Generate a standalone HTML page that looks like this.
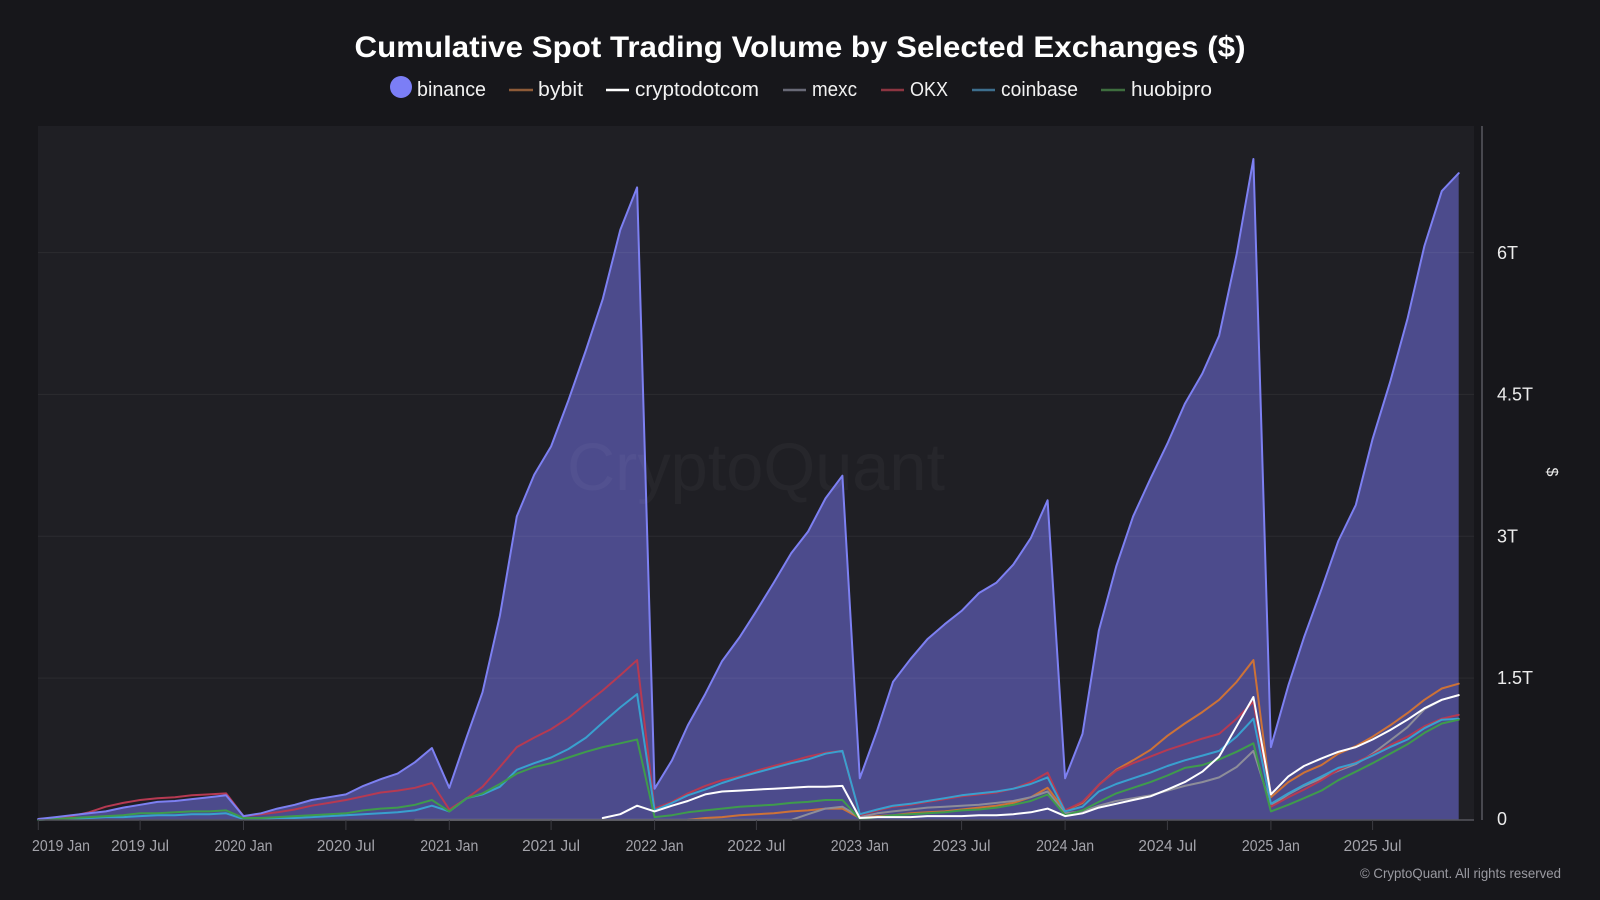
<!DOCTYPE html>
<html><head><meta charset="utf-8">
<style>
html,body{margin:0;padding:0;background:#17171b;overflow:hidden;}
svg{display:block;}
</style></head>
<body>
<svg id="c" width="1600" height="900" viewBox="0 0 1600 900" xmlns="http://www.w3.org/2000/svg" font-family="'Liberation Sans', Arial, sans-serif">
  <rect width="1600" height="900" fill="#17171b"/>
  <rect x="38" y="126" width="1436" height="694" fill="#1f1f24"/>
  <!-- Title -->
  <text x="800" y="57" text-anchor="middle" font-size="30" font-weight="bold" fill="#ffffff" textLength="891" lengthAdjust="spacingAndGlyphs">Cumulative Spot Trading Volume by Selected Exchanges ($)</text>
  <!-- Legend -->
  <g font-size="20" fill="#f2f2f2">
    <circle cx="401" cy="87" r="11" fill="#7b7ef6"/>
    <text x="417" y="96" textLength="69" lengthAdjust="spacingAndGlyphs">binance</text>
    <line x1="509" y1="90" x2="533" y2="90" stroke="#8e5b38" stroke-width="2.5"/>
    <text x="538" y="96" textLength="45" lengthAdjust="spacingAndGlyphs">bybit</text>
    <line x1="606" y1="90" x2="629" y2="90" stroke="#ffffff" stroke-width="2.5"/>
    <text x="635" y="96" textLength="124" lengthAdjust="spacingAndGlyphs">cryptodotcom</text>
    <line x1="783" y1="90" x2="806" y2="90" stroke="#686976" stroke-width="2.5"/>
    <text x="812" y="96" textLength="45" lengthAdjust="spacingAndGlyphs">mexc</text>
    <line x1="881" y1="90" x2="904" y2="90" stroke="#8c3541" stroke-width="2.5"/>
    <text x="910" y="96" textLength="38" lengthAdjust="spacingAndGlyphs">OKX</text>
    <line x1="972" y1="90" x2="995" y2="90" stroke="#3d6e8d" stroke-width="2.5"/>
    <text x="1001" y="96" textLength="77" lengthAdjust="spacingAndGlyphs">coinbase</text>
    <line x1="1101" y1="90" x2="1125" y2="90" stroke="#3e6d3e" stroke-width="2.5"/>
    <text x="1131" y="96" textLength="81" lengthAdjust="spacingAndGlyphs">huobipro</text>
  </g>
  <g id="area"></g>
  <!-- gridlines -->
  <g stroke="#ffffff" stroke-opacity="0.06" stroke-width="1">
    <line x1="38" y1="678.1" x2="1474" y2="678.1"/>
    <line x1="38" y1="536.2" x2="1474" y2="536.2"/>
    <line x1="38" y1="394.4" x2="1474" y2="394.4"/>
    <line x1="38" y1="252.6" x2="1474" y2="252.6"/>
  </g>
  <!-- watermark -->
  <text x="567" y="490" font-size="67" fill="#ffffff" fill-opacity="0.035" textLength="378" lengthAdjust="spacingAndGlyphs">CryptoQuant</text>
  <g id="lines"></g>
  <!-- x axis -->
  <line x1="38" y1="820" x2="1474" y2="820" stroke="#55555c" stroke-width="1.5"/>
  <g id="xticks" stroke="#3c3c43" stroke-width="1"></g>
  <g id="xlabels" font-size="16" fill="#a3a3aa"></g>
  <!-- right axis -->
  <line x1="1482" y1="126" x2="1482" y2="820" stroke="#48484f" stroke-width="2"/>
  <g font-size="18" fill="#ececec">
    <text x="1497" y="259">6T</text>
    <text x="1497" y="400.5">4.5T</text>
    <text x="1497" y="542.5">3T</text>
    <text x="1497" y="684">1.5T</text>
    <text x="1497" y="825">0</text>
  </g>
  <text x="0" y="0" font-size="16" fill="#ececec" text-anchor="middle" transform="translate(1547,472) rotate(90)">$</text>
  <!-- footer -->
  <text x="1561" y="878" font-size="14" fill="#9a9aa1" text-anchor="end" textLength="201" lengthAdjust="spacingAndGlyphs">© CryptoQuant. All rights reserved</text>
</svg>
<script>
(function(){
var NS="http://www.w3.org/2000/svg";
function N(n){var a=[];for(var i=0;i<n;i++)a.push(null);return a;}
function Z(n){var a=[];for(var i=0;i<n;i++)a.push(0);return a;}
var binance=[
0.01,0.03,0.05,0.07,0.09,0.13,0.16,0.19,0.20,0.22,0.24,0.26,
0.04,0.07,0.12,0.16,0.21,0.24,0.27,0.36,0.43,0.49,0.61,0.76,
0.34,0.88,1.35,2.16,3.21,3.65,3.95,4.44,4.97,5.51,6.24,6.69,
0.33,0.63,1.00,1.33,1.68,1.93,2.21,2.51,2.82,3.05,3.40,3.64,
0.44,0.95,1.46,1.70,1.91,2.07,2.21,2.40,2.51,2.70,2.98,3.38,
0.44,0.91,2.00,2.68,3.21,3.61,3.98,4.40,4.72,5.12,5.98,6.99,
0.77,1.42,1.93,2.44,2.95,3.33,4.03,4.63,5.30,6.07,6.65,6.84];
var okx=[
0.01,0.02,0.04,0.08,0.14,0.18,0.21,0.23,0.24,0.26,0.27,0.28,
0.04,0.06,0.08,0.11,0.15,0.18,0.21,0.25,0.29,0.31,0.34,0.39,
0.11,0.23,0.35,0.56,0.77,0.87,0.96,1.08,1.23,1.37,1.53,1.69,
0.12,0.19,0.28,0.36,0.42,0.46,0.52,0.57,0.62,0.67,0.71,0.73,
0.05,0.10,0.14,0.16,0.19,0.22,0.25,0.27,0.29,0.33,0.40,0.50,
0.10,0.19,0.37,0.52,0.60,0.67,0.74,0.80,0.86,0.91,1.07,1.25,
0.14,0.24,0.32,0.42,0.53,0.61,0.69,0.79,0.88,0.99,1.07,1.11];
var coinbase=[
0.00,0.01,0.01,0.02,0.03,0.03,0.04,0.05,0.05,0.06,0.06,0.07,
0.01,0.01,0.02,0.02,0.03,0.04,0.05,0.06,0.07,0.08,0.10,0.15,
0.09,0.23,0.27,0.35,0.53,0.60,0.66,0.75,0.87,1.03,1.19,1.33,
0.10,0.18,0.26,0.32,0.39,0.45,0.50,0.55,0.60,0.64,0.70,0.73,
0.06,0.11,0.15,0.17,0.20,0.23,0.26,0.28,0.30,0.33,0.38,0.45,
0.09,0.14,0.30,0.38,0.44,0.50,0.57,0.63,0.68,0.73,0.88,1.07,
0.17,0.28,0.37,0.46,0.55,0.60,0.68,0.77,0.85,0.97,1.06,1.07];
var huobi=[
0.00,0.01,0.02,0.03,0.04,0.05,0.07,0.07,0.08,0.09,0.09,0.10,
0.02,0.02,0.03,0.04,0.05,0.06,0.07,0.10,0.12,0.13,0.16,0.21,
0.09,0.23,0.28,0.38,0.49,0.56,0.60,0.66,0.72,0.77,0.81,0.85,
0.03,0.05,0.08,0.10,0.12,0.14,0.15,0.16,0.18,0.19,0.21,0.21,
0.01,0.03,0.05,0.06,0.07,0.08,0.10,0.11,0.13,0.16,0.20,0.27,
0.05,0.10,0.19,0.28,0.34,0.40,0.47,0.55,0.58,0.64,0.72,0.81,
0.09,0.16,0.23,0.31,0.42,0.51,0.60,0.70,0.80,0.92,1.02,1.06];
var bybit=N(38).concat([0.00,0.02,0.03,0.05,0.06,0.07,0.09,0.10,0.12,0.12,
0.02,0.04,0.05,0.07,0.08,0.09,0.11,0.13,0.15,0.18,0.24,0.34,
0.10,0.18,0.37,0.53,0.63,0.74,0.89,1.02,1.14,1.27,1.46,1.69,
0.24,0.40,0.50,0.58,0.70,0.78,0.88,1.00,1.13,1.27,1.39,1.44]);
var mexc=N(22).concat(Z(23)).concat([0.06,0.12,0.14,
0.03,0.07,0.09,0.11,0.13,0.14,0.15,0.16,0.18,0.20,0.24,0.30,
0.07,0.09,0.15,0.20,0.23,0.26,0.31,0.36,0.40,0.45,0.56,0.73,
0.15,0.27,0.36,0.44,0.52,0.59,0.70,0.84,0.98,1.17,1.27,1.32]);
var cro=N(33).concat([0.02,0.06,0.15,
0.09,0.15,0.20,0.27,0.30,0.31,0.32,0.33,0.34,0.35,0.35,0.36,
0.02,0.03,0.03,0.03,0.04,0.04,0.04,0.05,0.05,0.06,0.08,0.12,
0.04,0.07,0.13,0.17,0.21,0.25,0.32,0.40,0.51,0.67,0.99,1.30,
0.27,0.46,0.57,0.65,0.72,0.77,0.85,0.95,1.06,1.18,1.27,1.32]);

var T0=Date.UTC(2019,0,1);
function XD(y,m){return 38.3+((Date.UTC(y,m,1)-T0)/864e5)*0.5623;}
function X(i){return XD(2019,i);}
function Y(v){return 819.9-v*94.55;}
function el(tag,attrs,parent){var e=document.createElementNS(NS,tag);for(var k in attrs)e.setAttribute(k,attrs[k]);parent.appendChild(e);return e;}

// area
var d="M"+X(0).toFixed(1)+","+Y(0).toFixed(1);
for(var i=0;i<binance.length;i++){d+=" L"+X(i).toFixed(1)+","+Y(binance[i]).toFixed(1);}
d+=" L"+X(binance.length-1).toFixed(1)+","+Y(0).toFixed(1)+" Z";
el("path",{d:d,fill:"#4c4b8c"},document.getElementById("area"));

function linePath(arr){
  var s="",pen=false;
  for(var i=0;i<arr.length;i++){
    if(arr[i]===null){pen=false;continue;}
    s+=(pen?" L":" M")+X(i).toFixed(1)+","+Y(arr[i]).toFixed(1);pen=true;
  }
  return s;
}
var L=document.getElementById("lines");
var series=[
  [bybit,"#cd7237"],
  [mexc,"#8d8d99"],
  [okx,"#b63a52"],
  [coinbase,"#39a0cf"],
  [huobi,"#3f9b4c"],
  [cro,"#ffffff"],
  [binance,"#7d80f2"]
];
series.forEach(function(s){
  el("path",{d:linePath(s[0]),fill:"none",stroke:s[1],"stroke-width":"2","stroke-linejoin":"round","stroke-linecap":"round"},L);
});

// ticks and labels
var TK=document.getElementById("xticks"),XL=document.getElementById("xlabels");
var names=["Jan","Jul"];
for(var y=2019;y<=2025;y++){
  for(var h=0;h<2;h++){
    var x=XD(y,h*6);
    el("line",{x1:x.toFixed(1),y1:"820",x2:x.toFixed(1),y2:"830"},TK);
    var lx=x;
    if(y===2019&&h===0)lx=61;
    var t=el("text",{x:lx.toFixed(1),y:"851","text-anchor":"middle",textLength:"58",lengthAdjust:"spacingAndGlyphs"},XL);
    t.textContent=y+" "+names[h];
  }
}
})();
</script>
</body></html>
